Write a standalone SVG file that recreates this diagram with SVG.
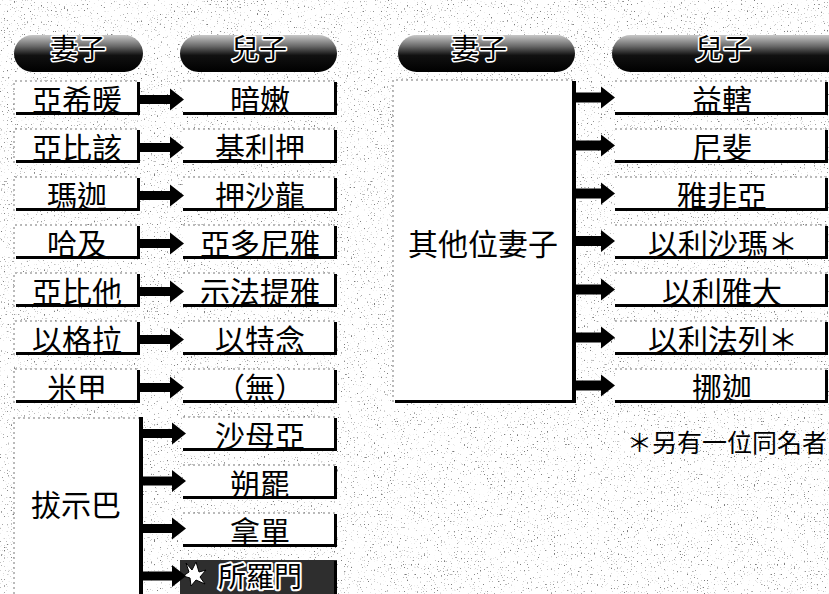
<svg xmlns="http://www.w3.org/2000/svg" xmlns:xlink="http://www.w3.org/1999/xlink" width="829" height="594" viewBox="0 0 829 594">
<style>
.t{font-family:"Noto Sans CJK TC","Noto Sans CJK SC",sans-serif;font-size:30px;fill:#000;text-anchor:middle;dominant-baseline:central}
.h{font-family:"Noto Sans CJK TC","Noto Sans CJK SC",sans-serif;font-size:28px;fill:#000;text-anchor:middle;dominant-baseline:central;stroke:#fff;stroke-width:3px;paint-order:stroke;stroke-linejoin:round}
.box{fill:#fff}
.edge{fill:none;stroke:#000;stroke-width:3}
.dot{fill:none;stroke:#777;stroke-width:1;stroke-dasharray:2 3}
.arr{fill:#000}
.pill{fill:url(#pg)}
</style>
<defs>
<linearGradient id="pg" x1="0" y1="0" x2="0" y2="1">
<stop offset="0" stop-color="#c8c8c8"/>
<stop offset="0.3" stop-color="#6a6a6a"/>
<stop offset="0.55" stop-color="#111"/>
<stop offset="1" stop-color="#000"/>
</linearGradient>
<filter id="noise" x="0" y="0" width="100%" height="100%">
<feTurbulence type="fractalNoise" baseFrequency="0.7" numOctaves="1" seed="7" result="t"/>
<feColorMatrix in="t" type="matrix" values="0 0 0 0 0.2  0 0 0 0 0.2  0 0 0 0 0.2  9 0 0 0 -5.8"/>
</filter>
<path id="aL" d="M0,-4.5 H30 V-11 L44,0 L30,11 V4.5 H0 Z"/>
<path id="aR" d="M0,-5 H26 V-11 L40,0 L26,11 V5 H0 Z"/>
</defs>
<rect width="829" height="594" fill="#fff"/>
<rect width="829" height="594" fill="#fff" filter="url(#noise)"/>

<g id="headers">
<g id="h-wife1"><rect class="pill" x="14" y="35" width="129" height="37" rx="18.5"/><text class="h" x="78" y="47">妻子</text></g>
<g id="h-son1"><rect class="pill" x="180" y="35" width="157" height="37" rx="18.5"/><text class="h" x="259" y="47">兒子</text></g>
<g id="h-wife2"><rect class="pill" x="398" y="35" width="177" height="37" rx="18.5"/><text class="h" x="479" y="47">妻子</text></g>
<g id="h-son2"><rect class="pill" x="612" y="35" width="235" height="37" rx="18.5"/><text class="h" x="723" y="47">兒子</text></g>
</g>

<g id="w1"><rect class="box" x="14" y="81" width="125" height="34"/><path class="dot" d="M14,115 V81 H139"/><path class="edge" d="M16,113.5 H138.5 V82"/><text class="t" x="77" y="98">亞希暖</text></g>
<g id="w2"><rect class="box" x="14" y="129" width="125" height="34"/><path class="dot" d="M14,163 V129 H139"/><path class="edge" d="M16,161.5 H138.5 V130"/><text class="t" x="77" y="146">亞比該</text></g>
<g id="w3"><rect class="box" x="14" y="177" width="125" height="34"/><path class="dot" d="M14,211 V177 H139"/><path class="edge" d="M16,209.5 H138.5 V178"/><text class="t" x="77" y="194">瑪迦</text></g>
<g id="w4"><rect class="box" x="14" y="225" width="125" height="34"/><path class="dot" d="M14,259 V225 H139"/><path class="edge" d="M16,257.5 H138.5 V226"/><text class="t" x="77" y="242">哈及</text></g>
<g id="w5"><rect class="box" x="14" y="273" width="125" height="34"/><path class="dot" d="M14,307 V273 H139"/><path class="edge" d="M16,305.5 H138.5 V274"/><text class="t" x="77" y="290">亞比他</text></g>
<g id="w6"><rect class="box" x="14" y="321" width="125" height="34"/><path class="dot" d="M14,355 V321 H139"/><path class="edge" d="M16,353.5 H138.5 V322"/><text class="t" x="77" y="338">以格拉</text></g>
<g id="w7"><rect class="box" x="14" y="369" width="125" height="34"/><path class="dot" d="M14,403 V369 H139"/><path class="edge" d="M16,401.5 H138.5 V370"/><text class="t" x="77" y="386">米甲</text></g>
<g id="w8"><rect class="box" x="14" y="418" width="126" height="180"/><path class="dot" d="M14,594 V418 H140"/><text class="t" x="76" y="503">拔示巴</text></g>

<g id="s1"><rect class="box" x="183" y="81" width="154" height="34"/><path class="dot" d="M183,81 H337"/><path class="edge" d="M183,113.5 H335.5 V82"/><text class="t" x="260" y="98">暗嫩</text></g>
<g id="s2"><rect class="box" x="183" y="129" width="154" height="34"/><path class="dot" d="M183,129 H337"/><path class="edge" d="M183,161.5 H335.5 V130"/><text class="t" x="260" y="146">基利押</text></g>
<g id="s3"><rect class="box" x="183" y="177" width="154" height="34"/><path class="dot" d="M183,177 H337"/><path class="edge" d="M183,209.5 H335.5 V178"/><text class="t" x="260" y="194">押沙龍</text></g>
<g id="s4"><rect class="box" x="183" y="225" width="154" height="34"/><path class="dot" d="M183,225 H337"/><path class="edge" d="M183,257.5 H335.5 V226"/><text class="t" x="260" y="242">亞多尼雅</text></g>
<g id="s5"><rect class="box" x="183" y="273" width="154" height="34"/><path class="dot" d="M183,273 H337"/><path class="edge" d="M183,305.5 H335.5 V274"/><text class="t" x="260" y="290">示法提雅</text></g>
<g id="s6"><rect class="box" x="183" y="321" width="154" height="34"/><path class="dot" d="M183,321 H337"/><path class="edge" d="M183,353.5 H335.5 V322"/><text class="t" x="260" y="338">以特念</text></g>
<g id="s7"><rect class="box" x="183" y="369" width="154" height="34"/><path class="dot" d="M183,369 H337"/><path class="edge" d="M183,401.5 H335.5 V370"/><text class="t" x="260" y="386">（無）</text></g>
<g id="s8"><rect class="box" x="183" y="417" width="154" height="34"/><path class="dot" d="M183,417 H337"/><path class="edge" d="M183,449.5 H335.5 V418"/><text class="t" x="260" y="434">沙母亞</text></g>
<g id="s9"><rect class="box" x="183" y="465" width="154" height="34"/><path class="dot" d="M183,465 H337"/><path class="edge" d="M183,497.5 H335.5 V466"/><text class="t" x="260" y="482">朔罷</text></g>
<g id="s10"><rect class="box" x="183" y="513" width="154" height="34"/><path class="dot" d="M183,513 H337"/><path class="edge" d="M183,545.5 H335.5 V514"/><text class="t" x="260" y="530">拿單</text></g>
<g id="s11"><rect x="180" y="560" width="157" height="40" fill="#2e2e2e"/><path class="edge" d="M335.5,561 V594"/><polygon points="186,563 192,570 196,562 199,572 206,570 200,577 205,584 196,580 191,586 190,578 183,576 189,572" fill="#fff" stroke="#000" stroke-width="1"/><text class="t" x="260" y="575" style="font-size:28px" stroke="#fff" stroke-width="4" paint-order="stroke" stroke-linejoin="round">所羅門</text></g>

<g id="w9"><rect class="box" x="393" y="80" width="180" height="322"/><path class="dot" d="M393,402 V80 H573"/><path class="edge" d="M395,401.5 H574"/><text class="t" x="483" y="242">其他位妻子</text></g>

<g id="r1"><rect class="box" x="615" y="81" width="213" height="34"/><path class="dot" d="M615,81 H828"/><path class="edge" d="M615,113.5 H826.5 V82"/><text class="t" x="722" y="98">益轄</text></g>
<g id="r2"><rect class="box" x="615" y="129" width="213" height="34"/><path class="dot" d="M615,129 H828"/><path class="edge" d="M615,161.5 H826.5 V130"/><text class="t" x="722" y="146">尼斐</text></g>
<g id="r3"><rect class="box" x="615" y="177" width="213" height="34"/><path class="dot" d="M615,177 H828"/><path class="edge" d="M615,209.5 H826.5 V178"/><text class="t" x="722" y="194">雅非亞</text></g>
<g id="r4"><rect class="box" x="615" y="225" width="213" height="34"/><path class="dot" d="M615,225 H828"/><path class="edge" d="M615,257.5 H826.5 V226"/><text class="t" x="723" y="242">以利沙瑪＊</text></g>
<g id="r5"><rect class="box" x="615" y="273" width="213" height="34"/><path class="dot" d="M615,273 H828"/><path class="edge" d="M615,305.5 H826.5 V274"/><text class="t" x="722" y="290">以利雅大</text></g>
<g id="r6"><rect class="box" x="615" y="321" width="213" height="34"/><path class="dot" d="M615,321 H828"/><path class="edge" d="M615,353.5 H826.5 V322"/><text class="t" x="723" y="338">以利法列＊</text></g>
<g id="r7"><rect class="box" x="615" y="369" width="213" height="34"/><path class="dot" d="M615,369 H828"/><path class="edge" d="M615,401.5 H826.5 V370"/><text class="t" x="722" y="386">挪迦</text></g>

<g id="note"><text x="627" y="441" style="font-family:'Noto Sans CJK TC','Noto Sans CJK SC',sans-serif;font-size:25px;dominant-baseline:central">＊另有一位同名者</text></g>

<g id="connectors">
<use href="#aL" class="arr" x="140" y="99.5"/>
<use href="#aL" class="arr" x="140" y="147.5"/>
<use href="#aL" class="arr" x="140" y="195.5"/>
<use href="#aL" class="arr" x="140" y="243.5"/>
<use href="#aL" class="arr" x="140" y="291.5"/>
<use href="#aL" class="arr" x="140" y="339.5"/>
<use href="#aL" class="arr" x="140" y="387.5"/>
<rect x="139" y="417" width="4" height="180" fill="#000"/>
<use href="#aL" class="arr" x="142" y="433.5"/>
<use href="#aL" class="arr" x="142" y="481"/>
<use href="#aL" class="arr" x="142" y="528.5"/>
<use href="#aL" class="arr" x="142" y="576"/>
<rect x="572" y="81" width="4" height="322" fill="#000"/>
<use href="#aR" class="arr" x="575" y="97.5"/>
<use href="#aR" class="arr" x="575" y="145.5"/>
<use href="#aR" class="arr" x="575" y="193.5"/>
<use href="#aR" class="arr" x="575" y="241"/>
<use href="#aR" class="arr" x="575" y="289.5"/>
<use href="#aR" class="arr" x="575" y="337.5"/>
<use href="#aR" class="arr" x="575" y="385.5"/>
</g>
</svg>
